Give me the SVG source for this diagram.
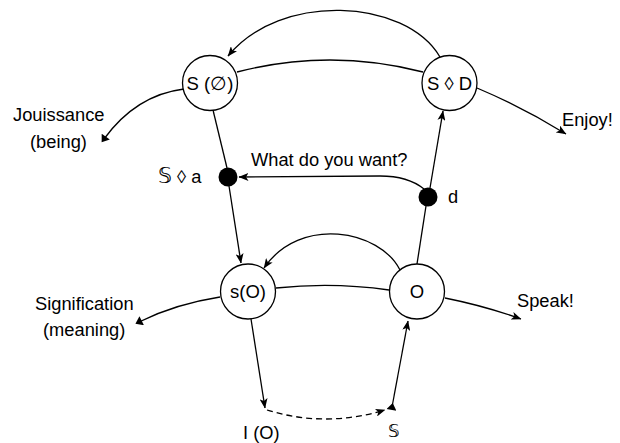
<svg xmlns="http://www.w3.org/2000/svg" width="620" height="443" viewBox="0 0 620 443">
  <style>
    text { font-family: "Liberation Sans", Arial, sans-serif; font-size: 18.3px; fill: #000; }
    .node circle { fill: #fff; stroke: #000; stroke-width: 1.3; }
    .node text { text-anchor: middle; font-size: 18.5px; }
    .dot circle { fill: #000; stroke: none; }
    .edges path { fill: none; stroke: #000; stroke-width: 1.3; }
    .dashed { stroke-dasharray: 6 4; }
    .ds { font-family: "DejaVu Serif", "DejaVu Sans", serif; font-style: italic; }
  </style>
  <defs>
    <marker id="arrow" viewBox="0 0 10 8" refX="9.5" refY="4" markerWidth="10" markerHeight="8" markerUnits="userSpaceOnUse" orient="auto">
      <path d="M0,0 L10,4 L0,8 L2.5,4 z" fill="#000"/>
    </marker>
    <marker id="block" viewBox="0 0 10 10" refX="5" refY="5" markerWidth="10" markerHeight="10" markerUnits="userSpaceOnUse" orient="auto">
      <path d="M2,0 L9,5 L2,10 z" fill="#000"/>
    </marker>
  </defs>

  <g class="edges" id="connectors">
    <!-- upper arc: S◊D back to S(∅) -->
    <path d="M440,57 C405,-2 280,-8 228,56" marker-end="url(#arrow)"/>
    <!-- upper link -->
    <path d="M237,72 Q330,48 423,72"/>
    <!-- Jouissance -->
    <path d="M184,89 Q136,95 104,139" marker-end="url(#block)"/>
    <!-- Enjoy! -->
    <path d="M477,88 Q522,107 566,134" marker-end="url(#arrow)"/>
    <!-- S(∅) down through $◊a to s(O) -->
    <path d="M213,110 L227,168"/>
    <path d="M229,186 L241,263" marker-end="url(#arrow)"/>
    <!-- O up through d to S◊D -->
    <path d="M417,264 L426,206"/>
    <path d="M430,188 L443,111" marker-end="url(#arrow)"/>
    <!-- What do you want? -->
    <path d="M424,189 Q408,176 380,176 L239,177" marker-end="url(#arrow)"/>
    <!-- lower arc: O back to s(O) -->
    <path d="M400,270 C380,230 300,215 264,268" marker-end="url(#arrow)"/>
    <!-- lower link -->
    <path d="M276,288 Q333,282 389,290"/>
    <!-- Signification -->
    <path d="M220,297 Q175,304 139,322" marker-end="url(#block)"/>
    <!-- Speak! -->
    <path d="M445,298 Q485,306 521,319" marker-end="url(#arrow)"/>
    <!-- s(O) down to I(O) -->
    <path d="M251,319 L265,408" marker-end="url(#arrow)"/>
    <!-- dashed passage I(O) to $ -->
    <path class="dashed" d="M267,410 Q325,428 385,410" marker-end="url(#arrow)"/>
    <!-- $ up to O -->
    <path d="M392,407 L408,321" marker-start="url(#block)" marker-end="url(#arrow)"/>
  </g>

  <g class="node" id="node-s-barred">
    <circle cx="210" cy="83" r="27.5"/>
    <text x="210" y="90">S (∅)</text>
  </g>
  <g class="node" id="node-s-d">
    <circle cx="449.5" cy="83" r="27.5"/>
    <text x="449.5" y="90">S ◊ D</text>
  </g>
  <g class="node" id="node-s-o">
    <circle cx="248" cy="291.5" r="27.5"/>
    <text x="248" y="298">s(O)</text>
  </g>
  <g class="node" id="node-o">
    <circle cx="417" cy="291.5" r="27.5"/>
    <text x="417" y="298">O</text>
  </g>
  <g class="dot" id="node-fantasy">
    <circle cx="228" cy="177" r="9.5"/>
    <text x="158" y="183"><tspan class="ds" font-size="22">𝕊</tspan> ◊ a</text>
  </g>
  <g class="dot" id="node-desire">
    <circle cx="428" cy="197" r="9.5"/>
    <text x="448" y="203">d</text>
  </g>

  <g id="labels">
    <text x="251" y="166">What do you want?</text>
    <text x="13" y="121">Jouissance</text>
    <text x="30" y="148">(being)</text>
    <text x="562" y="126">Enjoy!</text>
    <text x="35" y="310">Signification</text>
    <text x="43" y="336">(meaning)</text>
    <text x="517" y="307">Speak!</text>
    <text x="243" y="439">I (O)</text>
    <text x="388" y="437" class="ds" font-size="24">𝕊</text>
  </g>
</svg>
